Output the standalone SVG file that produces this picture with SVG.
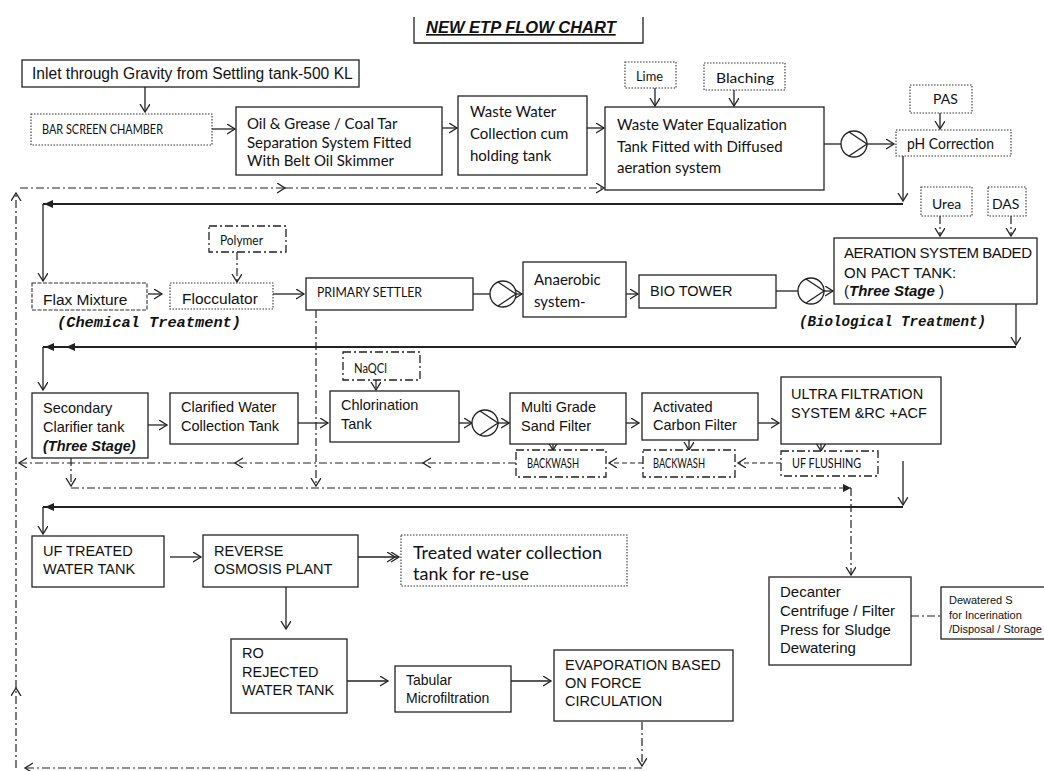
<svg xmlns="http://www.w3.org/2000/svg" xmlns:xlink="http://www.w3.org/1999/xlink" width="1044" height="771" viewBox="0 0 1044 771">
<style>
.bg{fill:#fff}
.box{fill:#fff;stroke:#222;stroke-width:1.3}
.dot{fill:#fff;stroke:#333;stroke-width:1.1;stroke-dasharray:1.5,1.5}
.dash{fill:#fff;stroke:#333;stroke-width:1.1;stroke-dasharray:4,1.5}
.dd{fill:#fff;stroke:#222;stroke-width:1.3;stroke-dasharray:8,3,2,3}
.a{font-family:"Liberation Sans",Arial,sans-serif;font-size:14.5px;fill:#111}
.c{font-family:Lato,"Liberation Sans",sans-serif;font-size:15px;fill:#111}
.cs{font-family:Lato,"Liberation Sans",sans-serif;font-size:13px;fill:#111}
.m{font-family:"Liberation Mono",monospace;font-size:15px;font-weight:bold;font-style:italic;fill:#111}
.bi{font-weight:bold;font-style:italic}
.ln{fill:none;stroke:#222;stroke-width:1.3}
.th{fill:none;stroke:#222;stroke-width:1.8}
.ldd{fill:none;stroke:#222;stroke-width:1.2;stroke-dasharray:8,3,2,3}
.lds{fill:none;stroke:#222;stroke-width:1.2;stroke-dasharray:5,3}
.pump{fill:#fff;stroke:#222;stroke-width:1.3}
</style>
<defs>
<marker id="ar" markerUnits="userSpaceOnUse" markerWidth="12" markerHeight="12" refX="8" refY="5" orient="auto">
<path d="M0,0 L8,5 L0,10" fill="none" stroke="#222" stroke-width="1.3"/>
</marker>
<marker id="af" markerUnits="userSpaceOnUse" markerWidth="12" markerHeight="12" refX="8" refY="4" orient="auto">
<path d="M0,0 L8,4 L0,8 Z" fill="#222"/>
</marker>
<marker id="ad" markerUnits="userSpaceOnUse" markerWidth="16" markerHeight="12" refX="12" refY="5" orient="auto">
<path d="M0,0 L8,5 L0,10 M4,0 L12,5 L4,10" fill="none" stroke="#222" stroke-width="1.3"/>
</marker>
<g id="pumpsym">
<circle cx="0" cy="0" r="13"/>
<path d="M-5,-12 L13,0 L-5,12"/>
</g>
</defs>
<rect class="bg" x="0" y="0" width="1044" height="771"/>

<g id="title">
<path class="ln" d="M414,17 V43 H643 V17"/>
<text x="426" y="33" font-family="Liberation Sans,Arial,sans-serif" font-size="16.5" font-weight="bold" font-style="italic" text-decoration="underline" fill="#111">NEW ETP FLOW CHART</text>
</g>

<g id="connectors">
<path class="ln" d="M145,87 V112" marker-end="url(#ar)"/>
<path class="ln" d="M212,129 H235" marker-end="url(#ar)"/>
<path class="ln" d="M442,128 H457" marker-end="url(#ar)"/>
<path class="ln" d="M587,128 H604" marker-end="url(#ar)"/>
<path class="ln" d="M655,88 V106" marker-end="url(#ar)"/>
<path class="ln" d="M734,90 V106" marker-end="url(#ar)"/>
<path class="ln" d="M824,144 H841"/>
<path class="ln" d="M867,144 H894" marker-end="url(#ar)"/>
<path class="ln" d="M940,113 V129" marker-end="url(#ar)"/>
<path class="ln" d="M903,156 V201" marker-end="url(#ar)"/>
<path class="th" d="M903,204 H43"/>
<path d="M44,204 L53,200 L53,208 Z" fill="#222"/>
<path class="ln" d="M43,204 V281" marker-end="url(#ar)"/>
<path class="ldd" d="M16,768 V688" marker-end="url(#ar)"/>
<path class="ldd" d="M16,688 V193" marker-end="url(#ar)"/>
<path class="ldd" d="M20,188 H285" marker-end="url(#ar)"/>
<path class="ldd" d="M285,188 H604" marker-end="url(#ar)"/>
<path class="ldd" d="M642,768 H25" marker-end="url(#ar)"/>
<path class="ldd" d="M642,722 V766" marker-end="url(#ar)"/>
<path class="ln" d="M148,294 H162" marker-end="url(#ar)"/>
<path class="ldd" d="M237,252 V282" marker-end="url(#ar)"/>
<path class="ln" d="M273,294 H304" marker-end="url(#ar)"/>
<path class="ldd" d="M316,310 V486" marker-end="url(#ar)"/>
<path class="ln" d="M473,294 H490"/>
<path class="ln" d="M516,294 H522" marker-end="url(#ar)"/>
<path class="ln" d="M626,294 H638" marker-end="url(#ar)"/>
<path class="ln" d="M776,291 H798"/>
<path class="ln" d="M824,291 H833" marker-end="url(#ar)"/>
<path class="ldd" d="M940,216 V236" marker-end="url(#ar)"/>
<path class="ldd" d="M1011,216 V236" marker-end="url(#ar)"/>
<path class="ln" d="M1016,304 V345" marker-end="url(#ar)"/>
<path class="th" d="M1016,347 H43"/>
<path d="M45,347 L54,343 L54,351 Z" fill="#222"/>
<path d="M66,347 L75,343 L75,351 Z" fill="#222"/>
<path class="ln" d="M43,347 V390" marker-end="url(#ar)"/>
<path class="ln" d="M148,425 H167" marker-end="url(#ar)"/>
<path class="ln" d="M298,423 H328" marker-end="url(#ar)"/>
<path class="ldd" d="M376,380 V390" marker-end="url(#ar)"/>
<path class="ln" d="M459,423 H472" marker-end="url(#ar)"/>
<path class="ln" d="M498,423 H509" marker-end="url(#ar)"/>
<path class="ln" d="M626,423 H639" marker-end="url(#ar)"/>
<path class="ln" d="M758,423 H779" marker-end="url(#ar)"/>
<path class="ln" d="M553,444 V450" marker-end="url(#ar)"/>
<path class="ln" d="M689,440 V450" marker-end="url(#ar)"/>
<path class="ln" d="M821,444 V451" marker-end="url(#ar)"/>
<path class="lds" d="M781,463 H738" marker-end="url(#ar)"/>
<path class="lds" d="M643,463 H609" marker-end="url(#ar)"/>
<path class="ldd" d="M516,463 H423" marker-end="url(#ar)"/>
<path class="ldd" d="M423,463 H235" marker-end="url(#ar)"/>
<path class="ldd" d="M235,463 H19" marker-end="url(#ar)"/>
<path class="ldd" d="M71,458 V486" marker-end="url(#ar)"/>
<path class="ldd" d="M71,488 H851" marker-end="url(#af)"/>
<path class="ldd" d="M851,488 V575" marker-end="url(#ar)"/>
<path class="ln" d="M903,461 V505" marker-end="url(#ar)"/>
<path class="th" d="M903,507 H43"/>
<path d="M45,507 L54,503 L54,511 Z" fill="#222"/>
<path class="ln" d="M43,507 V534" marker-end="url(#ar)"/>
<path class="ln" d="M170,557 H201" marker-end="url(#ar)"/>
<path class="ln" d="M358,557 H399" marker-end="url(#ad)"/>
<path class="ln" d="M286,587 V629" marker-end="url(#ar)"/>
<path class="ln" d="M347,681 H388" marker-end="url(#ar)"/>
<path class="ln" d="M511,681 H551" marker-end="url(#ar)"/>
<path class="ldd" d="M911,616 H941"/>
</g>

<g id="pump1" class="pump"><use xlink:href="#pumpsym" x="854" y="144"/></g>
<g id="pump2" class="pump"><use xlink:href="#pumpsym" x="503" y="294"/></g>
<g id="pump3" class="pump"><use xlink:href="#pumpsym" x="811" y="291"/></g>
<g id="pump4" class="pump"><use xlink:href="#pumpsym" x="485" y="423"/></g>

<g id="inlet"><rect class="box" x="22" y="60" width="337" height="27"/><text class="a" x="32" y="79" style="font-size:15.6px">Inlet through Gravity from Settling tank-500 KL</text></g>
<g id="barscreen"><rect class="dot" x="31" y="114" width="181" height="31"/><text class="cs" x="42" y="134" textLength="121" lengthAdjust="spacingAndGlyphs">BAR SCREEN CHAMBER</text></g>
<g id="oilgrease"><rect class="box" x="236" y="107" width="206" height="68"/>
<text class="c" x="247" y="128.5">Oil &amp; Grease / Coal Tar</text>
<text class="c" x="247" y="147.5">Separation System Fitted</text>
<text class="c" x="247" y="165.5">With Belt Oil Skimmer</text></g>
<g id="collection"><rect class="box" x="458" y="96" width="129" height="79"/>
<text class="c" x="470" y="117">Waste Water</text>
<text class="c" x="470" y="139">Collection cum</text>
<text class="c" x="470" y="161">holding tank</text></g>
<g id="equalization"><rect class="box" x="605" y="107" width="219" height="83"/>
<text class="c" x="617" y="130">Waste Water Equalization</text>
<text class="c" x="617" y="152">Tank Fitted with Diffused</text>
<text class="c" x="617" y="173">aeration system</text></g>
<g id="lime"><rect class="dot" x="625" y="62" width="51" height="26"/><text class="c" x="636" y="81" style="font-size:14px" textLength="27" lengthAdjust="spacingAndGlyphs">Lime</text></g>
<g id="blaching"><rect class="dot" x="704" y="63" width="81" height="27"/><text class="c" x="716" y="83" style="font-size:14px" textLength="58" lengthAdjust="spacingAndGlyphs">Blaching</text></g>
<g id="pas"><rect class="dot" x="910" y="85" width="62" height="28"/><text class="c" x="933" y="104" style="font-size:14px">PAS</text></g>
<g id="ph"><rect class="dot" x="896" y="130" width="115" height="26"/><text class="c" x="907" y="149" textLength="87" lengthAdjust="spacingAndGlyphs">pH Correction</text></g>

<g id="flax"><rect class="dash" x="32" y="283" width="115" height="27"/><text class="a" x="43" y="304.5" style="font-size:15.5px">Flax Mixture</text></g>
<g id="flocculator"><rect class="dot" x="170" y="283" width="103" height="26"/><text class="a" x="182" y="303.5" style="font-size:15.5px">Flocculator</text></g>
<g id="polymer"><rect class="dd" x="209" y="226" width="77" height="26"/><text class="cs" x="220" y="244.5" textLength="43" lengthAdjust="spacingAndGlyphs">Polymer</text></g>
<g id="chemlabel"><text class="m" x="57" y="327" textLength="184" lengthAdjust="spacingAndGlyphs">(Chemical Treatment)</text></g>
<g id="primary"><rect class="box" x="306" y="278" width="167" height="32"/><text class="c" x="317" y="297" style="font-size:14px" textLength="105" lengthAdjust="spacingAndGlyphs">PRIMARY SETTLER</text></g>
<g id="anaerobic"><rect class="box" x="523" y="262" width="103" height="55"/>
<text class="c" x="534" y="285">Anaerobic</text>
<text class="c" x="534" y="307">system-</text></g>
<g id="biotower"><rect class="box" x="639" y="275" width="137" height="33"/><text class="a" x="650" y="296">BIO TOWER</text></g>
<g id="aeration"><rect class="box" x="834" y="238" width="203" height="66"/>
<text class="a" x="844" y="258" style="font-size:15px" textLength="188" lengthAdjust="spacing">AERATION SYSTEM BADED</text>
<text class="a" x="844" y="278" style="font-size:15px">ON PACT TANK:</text>
<text class="a" x="844" y="296" style="font-size:15px">(<tspan class="bi">Three Stage</tspan> )</text></g>
<g id="urea"><rect class="dot" x="921" y="187" width="51" height="29"/><text class="c" x="932" y="209" style="font-size:14px">Urea</text></g>
<g id="das"><rect class="dot" x="988" y="187" width="38" height="29"/><text class="c" x="992" y="209" style="font-size:14px">DAS</text></g>
<g id="biolabel"><text class="m" x="799" y="326" textLength="187" lengthAdjust="spacingAndGlyphs">(Biological Treatment)</text></g>

<g id="secondary"><rect class="box" x="32" y="393" width="116" height="65"/>
<text class="a" x="43" y="413">Secondary</text>
<text class="a" x="43" y="432">Clarifier tank</text>
<text class="a bi" x="43" y="451">(Three Stage)</text></g>
<g id="clarified"><rect class="box" x="170" y="393" width="128" height="51"/>
<text class="a" x="181" y="412">Clarified Water</text>
<text class="a" x="181" y="431">Collection Tank</text></g>
<g id="naocl"><rect class="dd" x="343" y="352" width="77" height="28"/><text class="cs" x="354" y="373" textLength="33" lengthAdjust="spacingAndGlyphs">NaQCl</text></g>
<g id="chlorination"><rect class="box" x="330" y="391" width="129" height="51"/>
<text class="a" x="341" y="410">Chlorination</text>
<text class="a" x="341" y="429">Tank</text></g>
<g id="sandfilter"><rect class="box" x="510" y="393" width="116" height="51"/>
<text class="a" x="521" y="412">Multi Grade</text>
<text class="a" x="521" y="431">Sand Filter</text></g>
<g id="carbonfilter"><rect class="box" x="642" y="393" width="116" height="47"/>
<text class="a" x="653" y="412">Activated</text>
<text class="a" x="653" y="430">Carbon Filter</text></g>
<g id="ultrafiltration"><rect class="box" x="781" y="377" width="160" height="67"/>
<text class="a" x="791" y="399">ULTRA FILTRATION</text>
<text class="a" x="791" y="418">SYSTEM &amp;RC +ACF</text></g>
<g id="ufflushing"><rect class="dd" x="781" y="451" width="97" height="25"/><text class="cs" x="792" y="468" style="font-size:12.5px" textLength="69" lengthAdjust="spacingAndGlyphs">UF FLUSHING</text></g>
<g id="backwash2"><rect class="dd" x="643" y="450" width="92" height="27"/><text class="cs" x="653" y="468" style="font-size:12.5px" textLength="52" lengthAdjust="spacingAndGlyphs">BACKWASH</text></g>
<g id="backwash1"><rect class="dd" x="516" y="450" width="90" height="27"/><text class="cs" x="527" y="468" style="font-size:12.5px" textLength="52" lengthAdjust="spacingAndGlyphs">BACKWASH</text></g>

<g id="uftreated"><rect class="box" x="32" y="536" width="132" height="51"/>
<text class="a" x="43" y="556">UF TREATED</text>
<text class="a" x="43" y="574">WATER TANK</text></g>
<g id="ro"><rect class="box" x="203" y="535" width="155" height="52"/>
<text class="a" x="214" y="556">REVERSE</text>
<text class="a" x="214" y="574">OSMOSIS PLANT</text></g>
<g id="treated"><rect class="dot" x="401" y="535" width="226" height="51"/>
<text class="c" x="413" y="559" style="font-size:18px" textLength="189" lengthAdjust="spacingAndGlyphs">Treated water collection</text>
<text class="c" x="413" y="580" style="font-size:18px">tank for re-use</text></g>
<g id="rorejected"><rect class="box" x="231" y="639" width="116" height="74"/>
<text class="a" x="242" y="658">RO</text>
<text class="a" x="242" y="677">REJECTED</text>
<text class="a" x="242" y="695">WATER TANK</text></g>
<g id="tabular"><rect class="box" x="395" y="666" width="116" height="46"/>
<text class="a" x="406" y="685" style="font-size:14px">Tabular</text>
<text class="a" x="406" y="703" style="font-size:14px">Microfiltration</text></g>
<g id="evaporation"><rect class="box" x="554" y="650" width="179" height="71"/>
<text class="a" x="565" y="670">EVAPORATION BASED</text>
<text class="a" x="565" y="688">ON FORCE</text>
<text class="a" x="565" y="706">CIRCULATION</text></g>
<g id="decanter"><rect class="box" x="769" y="577" width="142" height="88"/>
<text class="a" x="780" y="597" style="font-size:15px">Decanter</text>
<text class="a" x="780" y="616" style="font-size:15px">Centrifuge / Filter</text>
<text class="a" x="780" y="635" style="font-size:15px">Press for Sludge</text>
<text class="a" x="780" y="653" style="font-size:15px">Dewatering</text></g>
<g id="dewatered"><rect class="box" x="941" y="587" width="120" height="52"/>
<text class="a" x="949" y="604" style="font-size:11px">Dewatered S</text>
<text class="a" x="949" y="619" style="font-size:11px">for Incerination</text>
<text class="a" x="949" y="633" style="font-size:11px">/Disposal / Storage</text></g>
</svg>
